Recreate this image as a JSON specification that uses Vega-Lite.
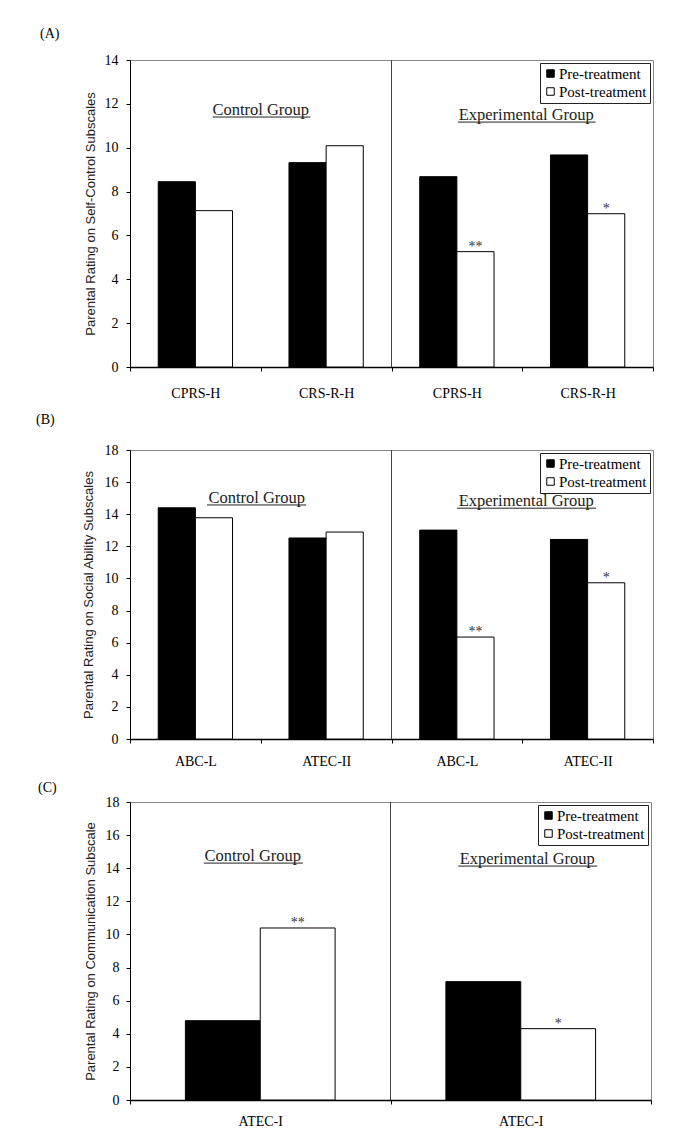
{
  "$schema": "https://vega.github.io/schema/vega-lite/v6.json",
  "padding": {"left": 35, "top": 26, "right": 0, "bottom": 0},
  "background": "white",
  "datasets": {
    "A": [
      {"id": "Control|CPRS-H", "treatment": "Pre-treatment", "value": 8.45, "sig": ""},
      {"id": "Control|CPRS-H", "treatment": "Post-treatment", "value": 7.13, "sig": ""},
      {"id": "Control|CRS-R-H", "treatment": "Pre-treatment", "value": 9.32, "sig": ""},
      {"id": "Control|CRS-R-H", "treatment": "Post-treatment", "value": 10.09, "sig": ""},
      {"id": "Experimental|CPRS-H", "treatment": "Pre-treatment", "value": 8.68, "sig": ""},
      {"id": "Experimental|CPRS-H", "treatment": "Post-treatment", "value": 5.26, "sig": "**"},
      {"id": "Experimental|CRS-R-H", "treatment": "Pre-treatment", "value": 9.67, "sig": ""},
      {"id": "Experimental|CRS-R-H", "treatment": "Post-treatment", "value": 6.99, "sig": "*"}
    ],
    "B": [
      {"id": "Control|ABC-L", "treatment": "Pre-treatment", "value": 14.4, "sig": ""},
      {"id": "Control|ABC-L", "treatment": "Post-treatment", "value": 13.78, "sig": ""},
      {"id": "Control|ATEC-II", "treatment": "Pre-treatment", "value": 12.52, "sig": ""},
      {"id": "Control|ATEC-II", "treatment": "Post-treatment", "value": 12.89, "sig": ""},
      {"id": "Experimental|ABC-L", "treatment": "Pre-treatment", "value": 13.01, "sig": ""},
      {"id": "Experimental|ABC-L", "treatment": "Post-treatment", "value": 6.35, "sig": "**"},
      {"id": "Experimental|ATEC-II", "treatment": "Pre-treatment", "value": 12.43, "sig": ""},
      {"id": "Experimental|ATEC-II", "treatment": "Post-treatment", "value": 9.73, "sig": "*"}
    ],
    "C": [
      {"id": "Control|ATEC-I", "treatment": "Pre-treatment", "value": 4.79, "sig": ""},
      {"id": "Control|ATEC-I", "treatment": "Post-treatment", "value": 10.39, "sig": "**"},
      {"id": "Experimental|ATEC-I", "treatment": "Pre-treatment", "value": 7.15, "sig": ""},
      {"id": "Experimental|ATEC-I", "treatment": "Post-treatment", "value": 4.31, "sig": "*"}
    ]
  },
  "concat": [
    {
      "title": {"text": "(A)", "dx": -90, "offset": 12},
      "width": 523,
      "height": 307,
      "layer": [
        {
          "data": {"name": "A"},
          "mark": {"type": "bar", "stroke": "black", "strokeWidth": 1},
          "encoding": {
            "x": {"field": "id", "type": "nominal", "sort": null,
              "scale": {"domain": ["Control|CPRS-H", "Control|CRS-R-H", "Experimental|CPRS-H", "Experimental|CRS-R-H"], "paddingInner": 0, "paddingOuter": 0},
              "axis": {"labelExpr": "split(datum.value, '|')[1]", "labelPadding": 15, "title": null}},
            "y": {"field": "value", "type": "quantitative",
              "scale": {"domain": [0, 14], "nice": false},
              "axis": {"values": [0, 2, 4, 6, 8, 10, 12, 14], "title": "Parental Rating on Self-Control Subscales", "titlePadding": 7}},
            "xOffset": {"field": "treatment", "type": "nominal", "sort": null,
              "scale": {"domain": ["Pre-treatment", "Post-treatment"], "paddingInner": 0, "paddingOuter": 0.76}},
            "fill": {"field": "treatment", "type": "nominal", "sort": null,
              "scale": {"domain": ["Pre-treatment", "Post-treatment"], "range": ["black", "white"]}}
          }
        },
        {
          "data": {"name": "A"},
          "transform": [{"filter": "datum.sig != ''"}],
          "mark": {"type": "text", "baseline": "alphabetic", "font": "Liberation Serif", "fontSize": 14, "color": "#333", "dy": -1},
          "encoding": {
            "x": {"field": "id", "type": "nominal", "sort": null, "axis": {"labelExpr": "split(datum.value, '|')[1]", "labelPadding": 15, "title": null}},
            "y": {"field": "value", "type": "quantitative", "axis": {"values": [0, 2, 4, 6, 8, 10, 12, 14], "title": "Parental Rating on Self-Control Subscales", "titlePadding": 7}},
            "xOffset": {"field": "treatment", "type": "nominal", "sort": null,
              "scale": {"domain": ["Pre-treatment", "Post-treatment"], "paddingInner": 0, "paddingOuter": 0.76}},
            "text": {"field": "sig"}
          }
        },
        {
          "data": {"values": [{}]},
          "mark": {"type": "rule", "color": "#444", "strokeWidth": 1},
          "encoding": {"x": {"datum": "Experimental|CPRS-H", "bandPosition": 0, "axis": {"labelExpr": "split(datum.value, '|')[1]", "labelPadding": 15, "title": null}}}
        },
        {
          "data": {"values": [{}]},
          "mark": {"type": "text", "text": "Control Group", "baseline": "alphabetic", "align": "center", "font": "Liberation Serif", "fontSize": 16.5, "color": "#222"},
          "encoding": {"x": {"datum": "Control|CRS-R-H", "bandPosition": 0, "axis": {"labelExpr": "split(datum.value, '|')[1]", "labelPadding": 15, "title": null}},
            "y": {"datum": 11.49, "type": "quantitative", "axis": {"values": [0, 2, 4, 6, 8, 10, 12, 14], "title": "Parental Rating on Self-Control Subscales", "titlePadding": 7}}}
        },
        {
          "data": {"values": [{}]},
          "mark": {"type": "rule", "color": "#222", "strokeWidth": 1, "xOffset": 17.3, "x2Offset": -15.8, "yOffset": 2},
          "encoding": {"x": {"datum": "Control|CPRS-H", "axis": {"labelExpr": "split(datum.value, '|')[1]", "labelPadding": 15, "title": null}}, "x2": {"datum": "Control|CRS-R-H"},
            "y": {"datum": 11.49, "type": "quantitative", "axis": {"values": [0, 2, 4, 6, 8, 10, 12, 14], "title": "Parental Rating on Self-Control Subscales", "titlePadding": 7}}}
        },
        {
          "data": {"values": [{}]},
          "mark": {"type": "text", "text": "Experimental Group", "baseline": "alphabetic", "align": "center", "font": "Liberation Serif", "fontSize": 16.5, "color": "#222", "dx": 4},
          "encoding": {"x": {"datum": "Experimental|CRS-R-H", "bandPosition": 0, "axis": {"labelExpr": "split(datum.value, '|')[1]", "labelPadding": 15, "title": null}},
            "y": {"datum": 11.26, "type": "quantitative", "axis": {"values": [0, 2, 4, 6, 8, 10, 12, 14], "title": "Parental Rating on Self-Control Subscales", "titlePadding": 7}}}
        },
        {
          "data": {"values": [{}]},
          "mark": {"type": "rule", "color": "#222", "strokeWidth": 1, "xOffset": 1, "x2Offset": 8, "yOffset": 2},
          "encoding": {"x": {"datum": "Experimental|CPRS-H", "axis": {"labelExpr": "split(datum.value, '|')[1]", "labelPadding": 15, "title": null}}, "x2": {"datum": "Experimental|CRS-R-H"},
            "y": {"datum": 11.26, "type": "quantitative", "axis": {"values": [0, 2, 4, 6, 8, 10, 12, 14], "title": "Parental Rating on Self-Control Subscales", "titlePadding": 7}}}
        }
      ]
    },
    {
      "title": {"text": "(B)", "dx": -94, "offset": 16},
      "width": 523,
      "height": 289,
      "layer": [
        {
          "data": {"name": "B"},
          "mark": {"type": "bar", "stroke": "black", "strokeWidth": 1},
          "encoding": {
            "x": {"field": "id", "type": "nominal", "sort": null,
              "scale": {"domain": ["Control|ABC-L", "Control|ATEC-II", "Experimental|ABC-L", "Experimental|ATEC-II"], "paddingInner": 0, "paddingOuter": 0},
              "axis": {"labelExpr": "split(datum.value, '|')[1]", "labelPadding": 11, "title": null}},
            "y": {"field": "value", "type": "quantitative",
              "scale": {"domain": [0, 18], "nice": false},
              "axis": {"values": [0, 2, 4, 6, 8, 10, 12, 14, 16, 18], "title": "Parental Rating on Social Ability Subscales", "titlePadding": 9}},
            "xOffset": {"field": "treatment", "type": "nominal", "sort": null,
              "scale": {"domain": ["Pre-treatment", "Post-treatment"], "paddingInner": 0, "paddingOuter": 0.76}},
            "fill": {"field": "treatment", "type": "nominal", "sort": null,
              "scale": {"domain": ["Pre-treatment", "Post-treatment"], "range": ["black", "white"]}}
          }
        },
        {
          "data": {"name": "B"},
          "transform": [{"filter": "datum.sig != ''"}],
          "mark": {"type": "text", "baseline": "alphabetic", "font": "Liberation Serif", "fontSize": 14, "color": "#333", "dy": -1},
          "encoding": {
            "x": {"field": "id", "type": "nominal", "sort": null, "axis": {"labelExpr": "split(datum.value, '|')[1]", "labelPadding": 11, "title": null}},
            "y": {"field": "value", "type": "quantitative", "axis": {"values": [0, 2, 4, 6, 8, 10, 12, 14, 16, 18], "title": "Parental Rating on Social Ability Subscales", "titlePadding": 9}},
            "xOffset": {"field": "treatment", "type": "nominal", "sort": null,
              "scale": {"domain": ["Pre-treatment", "Post-treatment"], "paddingInner": 0, "paddingOuter": 0.76}},
            "text": {"field": "sig"}
          }
        },
        {
          "data": {"values": [{}]},
          "mark": {"type": "rule", "color": "#444", "strokeWidth": 1},
          "encoding": {"x": {"datum": "Experimental|ABC-L", "bandPosition": 0, "axis": {"labelExpr": "split(datum.value, '|')[1]", "labelPadding": 11, "title": null}}}
        },
        {
          "data": {"values": [{}]},
          "mark": {"type": "text", "text": "Control Group", "baseline": "alphabetic", "align": "center", "font": "Liberation Serif", "fontSize": 16.5, "color": "#222", "dx": -4},
          "encoding": {"x": {"datum": "Control|ATEC-II", "bandPosition": 0, "axis": {"labelExpr": "split(datum.value, '|')[1]", "labelPadding": 11, "title": null}},
            "y": {"datum": 14.7, "type": "quantitative", "axis": {"values": [0, 2, 4, 6, 8, 10, 12, 14, 16, 18], "title": "Parental Rating on Social Ability Subscales", "titlePadding": 9}}}
        },
        {
          "data": {"values": [{}]},
          "mark": {"type": "rule", "color": "#222", "strokeWidth": 1, "xOffset": 11.6, "x2Offset": -20, "yOffset": 2},
          "encoding": {"x": {"datum": "Control|ABC-L", "axis": {"labelExpr": "split(datum.value, '|')[1]", "labelPadding": 11, "title": null}}, "x2": {"datum": "Control|ATEC-II"},
            "y": {"datum": 14.7, "type": "quantitative", "axis": {"values": [0, 2, 4, 6, 8, 10, 12, 14, 16, 18], "title": "Parental Rating on Social Ability Subscales", "titlePadding": 9}}}
        },
        {
          "data": {"values": [{}]},
          "mark": {"type": "text", "text": "Experimental Group", "baseline": "alphabetic", "align": "center", "font": "Liberation Serif", "fontSize": 16.5, "color": "#222", "dx": 4},
          "encoding": {"x": {"datum": "Experimental|ATEC-II", "bandPosition": 0, "axis": {"labelExpr": "split(datum.value, '|')[1]", "labelPadding": 11, "title": null}},
            "y": {"datum": 14.5, "type": "quantitative", "axis": {"values": [0, 2, 4, 6, 8, 10, 12, 14, 16, 18], "title": "Parental Rating on Social Ability Subscales", "titlePadding": 9}}}
        },
        {
          "data": {"values": [{}]},
          "mark": {"type": "rule", "color": "#222", "strokeWidth": 1, "xOffset": 0, "x2Offset": 8.4, "yOffset": 2},
          "encoding": {"x": {"datum": "Experimental|ABC-L", "axis": {"labelExpr": "split(datum.value, '|')[1]", "labelPadding": 11, "title": null}}, "x2": {"datum": "Experimental|ATEC-II"},
            "y": {"datum": 14.5, "type": "quantitative", "axis": {"values": [0, 2, 4, 6, 8, 10, 12, 14, 16, 18], "title": "Parental Rating on Social Ability Subscales", "titlePadding": 9}}}
        }
      ]
    },
    {
      "title": {"text": "(C)", "dx": -92, "dy": -3, "offset": -3},
      "width": 521,
      "height": 298,
      "layer": [
        {
          "data": {"name": "C"},
          "mark": {"type": "bar", "stroke": "black", "strokeWidth": 1},
          "encoding": {
            "x": {"field": "id", "type": "nominal", "sort": null,
              "scale": {"domain": ["Control|ATEC-I", "Experimental|ATEC-I"], "paddingInner": 0, "paddingOuter": 0},
              "axis": {"labelExpr": "split(datum.value, '|')[1]", "labelPadding": 10, "title": null}},
            "y": {"field": "value", "type": "quantitative",
              "scale": {"domain": [0, 18], "nice": false},
              "axis": {"values": [0, 2, 4, 6, 8, 10, 12, 14, 16, 18], "title": "Parental Rating on Communication Subscale", "titlePadding": 8, "labelPadding": 7}},
            "xOffset": {"field": "treatment", "type": "nominal", "sort": null,
              "scale": {"domain": ["Pre-treatment", "Post-treatment"], "paddingInner": 0, "paddingOuter": 0.74}},
            "fill": {"field": "treatment", "type": "nominal", "sort": null,
              "scale": {"domain": ["Pre-treatment", "Post-treatment"], "range": ["black", "white"]}}
          }
        },
        {
          "data": {"name": "C"},
          "transform": [{"filter": "datum.sig != ''"}],
          "mark": {"type": "text", "baseline": "alphabetic", "font": "Liberation Serif", "fontSize": 14, "color": "#333", "dy": -1},
          "encoding": {
            "x": {"field": "id", "type": "nominal", "sort": null, "axis": {"labelExpr": "split(datum.value, '|')[1]", "labelPadding": 10, "title": null}},
            "y": {"field": "value", "type": "quantitative", "axis": {"values": [0, 2, 4, 6, 8, 10, 12, 14, 16, 18], "title": "Parental Rating on Communication Subscale", "titlePadding": 8, "labelPadding": 7}},
            "xOffset": {"field": "treatment", "type": "nominal", "sort": null,
              "scale": {"domain": ["Pre-treatment", "Post-treatment"], "paddingInner": 0, "paddingOuter": 0.74}},
            "text": {"field": "sig"}
          }
        },
        {
          "data": {"values": [{}]},
          "mark": {"type": "rule", "color": "#444", "strokeWidth": 1},
          "encoding": {"x": {"datum": "Experimental|ATEC-I", "bandPosition": 0, "axis": {"labelExpr": "split(datum.value, '|')[1]", "labelPadding": 10, "title": null}}}
        },
        {
          "data": {"values": [{}]},
          "mark": {"type": "text", "text": "Control Group", "baseline": "alphabetic", "align": "center", "font": "Liberation Serif", "fontSize": 16.5, "color": "#222", "dx": -7.5},
          "encoding": {"x": {"datum": "Control|ATEC-I", "axis": {"labelExpr": "split(datum.value, '|')[1]", "labelPadding": 10, "title": null}},
            "y": {"datum": 14.43, "type": "quantitative", "axis": {"values": [0, 2, 4, 6, 8, 10, 12, 14, 16, 18], "title": "Parental Rating on Communication Subscale", "titlePadding": 8, "labelPadding": 7}}}
        },
        {
          "data": {"values": [{}]},
          "mark": {"type": "rule", "color": "#222", "strokeWidth": 1, "xOffset": -56.5, "x2Offset": 42.5, "yOffset": 2},
          "encoding": {"x": {"datum": "Control|ATEC-I", "axis": {"labelExpr": "split(datum.value, '|')[1]", "labelPadding": 10, "title": null}}, "x2": {"datum": "Control|ATEC-I"},
            "y": {"datum": 14.43, "type": "quantitative", "axis": {"values": [0, 2, 4, 6, 8, 10, 12, 14, 16, 18], "title": "Parental Rating on Communication Subscale", "titlePadding": 8, "labelPadding": 7}}}
        },
        {
          "data": {"values": [{}]},
          "mark": {"type": "text", "text": "Experimental Group", "baseline": "alphabetic", "align": "center", "font": "Liberation Serif", "fontSize": 16.5, "color": "#222", "dx": 6.5},
          "encoding": {"x": {"datum": "Experimental|ATEC-I", "axis": {"labelExpr": "split(datum.value, '|')[1]", "labelPadding": 10, "title": null}},
            "y": {"datum": 14.25, "type": "quantitative", "axis": {"values": [0, 2, 4, 6, 8, 10, 12, 14, 16, 18], "title": "Parental Rating on Communication Subscale", "titlePadding": 8, "labelPadding": 7}}}
        },
        {
          "data": {"values": [{}]},
          "mark": {"type": "rule", "color": "#222", "strokeWidth": 1, "xOffset": -62.5, "x2Offset": 76.5, "yOffset": 2},
          "encoding": {"x": {"datum": "Experimental|ATEC-I", "axis": {"labelExpr": "split(datum.value, '|')[1]", "labelPadding": 10, "title": null}}, "x2": {"datum": "Experimental|ATEC-I"},
            "y": {"datum": 14.25, "type": "quantitative", "axis": {"values": [0, 2, 4, 6, 8, 10, 12, 14, 16, 18], "title": "Parental Rating on Communication Subscale", "titlePadding": 8, "labelPadding": 7}}}
        }
      ]
    }
  ],
  "columns": 1,
  "spacing": 11,
  "resolve": {
    "scale": {"x": "independent", "y": "independent", "xOffset": "independent", "fill": "independent"},
    "legend": {"fill": "independent"},
    "axis": {"x": "independent", "y": "independent"}
  },
  "config": {
    "view": {"stroke": "#888", "strokeWidth": 1},
    "title": {"font": "Liberation Serif", "fontSize": 14, "fontWeight": "normal", "anchor": "start", "frame": "group", "color": "black"},
    "axis": {"labelFont": "Liberation Serif", "labelFontSize": 14, "labelColor": "black", "domainColor": "black", "tickColor": "black", "grid": false,
      "titleFont": "Liberation Sans", "titleFontWeight": "normal", "titleFontSize": 13, "titleColor": "#222"},
    "axisX": {"tickBand": "extent", "labelAngle": 0, "tickSize": 4, "labelPadding": 11, "domainWidth": 1.5, "title": null},
    "axisY": {"tickSize": 4, "labelPadding": 8},
    "legend": {"orient": "top-right", "offset": 3, "title": null, "strokeColor": "#222", "fillColor": "white", "padding": 3,
      "symbolType": "square", "symbolSize": 56, "symbolStrokeColor": "black", "symbolStrokeWidth": 1,
      "labelFont": "Liberation Serif", "labelFontSize": 15, "labelColor": "black", "rowPadding": 2, "labelOffset": 1}
  }
}
